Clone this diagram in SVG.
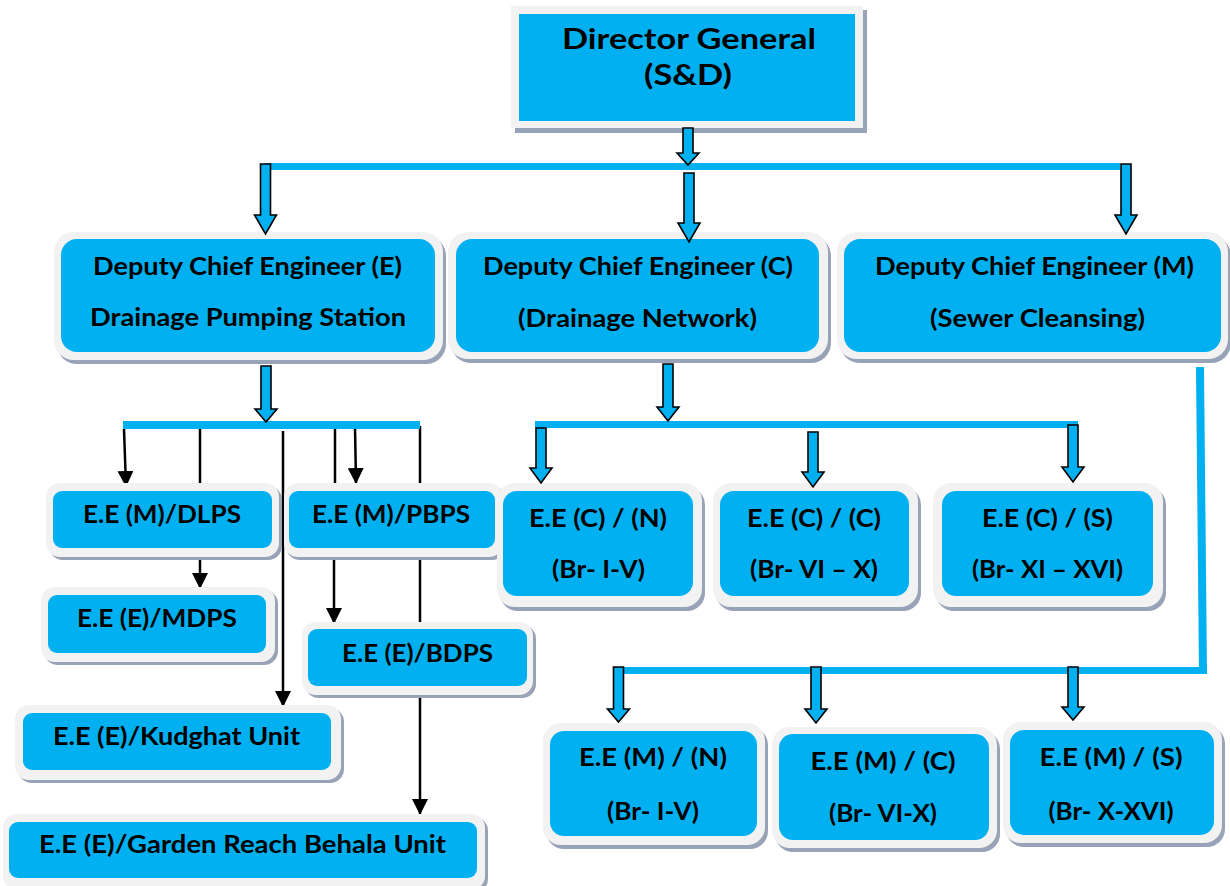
<svg xmlns="http://www.w3.org/2000/svg" width="1230" height="886" viewBox="0 0 1230 886">
<style>
.sh{fill:#98a3b8}
.fr{fill:#f2f2f2}
.bl{fill:#00b0f0}
.t{font-family:Lato,"Liberation Sans",sans-serif;font-weight:bold;font-size:24px;fill:#000;text-anchor:middle}
.tb{font-size:28px}
.bar{fill:#00b0f0}
.ba{fill:#00b0f0;stroke:#000;stroke-width:1.6;stroke-linejoin:miter}
.ln{stroke:#000;stroke-width:2.5;fill:none}
</style>
<defs>
<marker id="ah" markerUnits="userSpaceOnUse" markerWidth="16" markerHeight="16" refX="15" refY="8" orient="auto">
<path d="M0,0 L16,8 L0,16 z" fill="#000"/>
</marker>
</defs>
<rect width="1230" height="886" fill="#fff"/>

<g id="connectors-lines">
<line class="ln" x1="124" y1="429" x2="126" y2="486" marker-end="url(#ah)"/>
<line class="ln" x1="200" y1="429" x2="200" y2="484"/>
<line class="ln" x1="200" y1="557" x2="200" y2="588" marker-end="url(#ah)"/>
<line class="ln" x1="283" y1="431" x2="283" y2="706" marker-end="url(#ah)"/>
<line class="ln" x1="335" y1="429" x2="335" y2="484"/>
<line class="ln" x1="334" y1="557" x2="334" y2="623" marker-end="url(#ah)"/>
<line class="ln" x1="355" y1="427" x2="356" y2="483" marker-end="url(#ah)"/>
<line class="ln" x1="420" y1="426" x2="420" y2="484"/>
<line class="ln" x1="420" y1="557" x2="420" y2="622"/>
<line class="ln" x1="420" y1="695" x2="420" y2="814" marker-end="url(#ah)"/>
</g>

<g id="n-dg">
<rect class="sh" x="515" y="10" width="352" height="123"/>
<rect class="fr" x="511" y="6" width="352" height="122"/>
<rect class="bl" x="519" y="14" width="336" height="107"/>
<text class="t tb" x="689" y="49" textLength="254" lengthAdjust="spacingAndGlyphs">Director General</text>
<text class="t tb" x="688" y="85" textLength="88" lengthAdjust="spacingAndGlyphs">(S&amp;D)</text>
</g>

<g id="n-dce-e">
<rect class="sh" x="57" y="236" width="389" height="128" rx="20"/>
<rect class="fr" x="54" y="232" width="389" height="128" rx="20"/>
<rect class="bl" x="61" y="239" width="374" height="113" rx="16"/>
<text class="t" x="247.5" y="275" textLength="309" lengthAdjust="spacingAndGlyphs">Deputy Chief Engineer (E)</text>
<text class="t" x="248" y="326" textLength="316" lengthAdjust="spacingAndGlyphs">Drainage Pumping Station</text>
</g>

<g id="n-dce-c">
<rect class="sh" x="451" y="236" width="380" height="127" rx="20"/>
<rect class="fr" x="448" y="232" width="380" height="127" rx="20"/>
<rect class="bl" x="456" y="239" width="363" height="113" rx="16"/>
<text class="t" x="638" y="275" textLength="310" lengthAdjust="spacingAndGlyphs">Deputy Chief Engineer (C)</text>
<text class="t" x="637.5" y="327" textLength="239" lengthAdjust="spacingAndGlyphs">(Drainage Network)</text>
</g>

<g id="n-dce-m">
<rect class="sh" x="840" y="236" width="391" height="127" rx="20"/>
<rect class="fr" x="837" y="232" width="391" height="127" rx="20"/>
<rect class="bl" x="844" y="239" width="377" height="113" rx="16"/>
<text class="t" x="1034.5" y="275" textLength="319" lengthAdjust="spacingAndGlyphs">Deputy Chief Engineer (M)</text>
<text class="t" x="1037.5" y="327" textLength="215" lengthAdjust="spacingAndGlyphs">(Sewer Cleansing)</text>
</g>

<g id="n-dlps">
<rect class="sh" x="49" y="486" width="233" height="74" rx="14"/>
<rect class="fr" x="46" y="483" width="233" height="74" rx="14"/>
<rect class="bl" x="53" y="491" width="219" height="57" rx="9"/>
<text class="t" x="162" y="523" textLength="158" lengthAdjust="spacingAndGlyphs">E.E (M)/DLPS</text>
</g>

<g id="n-pbps">
<rect class="sh" x="286" y="486" width="220" height="74" rx="14"/>
<rect class="fr" x="284" y="483" width="219" height="74" rx="14"/>
<rect class="bl" x="289" y="491" width="206" height="57" rx="9"/>
<text class="t" x="391" y="523" textLength="158" lengthAdjust="spacingAndGlyphs">E.E (M)/PBPS</text>
</g>

<g id="n-mdps">
<rect class="sh" x="44" y="590" width="234" height="75" rx="14"/>
<rect class="fr" x="41" y="587" width="234" height="75" rx="14"/>
<rect class="bl" x="48" y="595" width="218" height="58" rx="9"/>
<text class="t" x="157" y="627" textLength="160" lengthAdjust="spacingAndGlyphs">E.E (E)/MDPS</text>
</g>

<g id="n-bdps">
<rect class="sh" x="305" y="625" width="231" height="73" rx="14"/>
<rect class="fr" x="302" y="622" width="231" height="73" rx="14"/>
<rect class="bl" x="308" y="629" width="219" height="57" rx="9"/>
<text class="t" x="417.5" y="662" textLength="151" lengthAdjust="spacingAndGlyphs">E.E (E)/BDPS</text>
</g>

<g id="n-kudghat">
<rect class="sh" x="18" y="708" width="326" height="75" rx="14"/>
<rect class="fr" x="15" y="705" width="326" height="75" rx="14"/>
<rect class="bl" x="23" y="713" width="308" height="57" rx="9"/>
<text class="t" x="176.5" y="745" textLength="247" lengthAdjust="spacingAndGlyphs">E.E (E)/Kudghat Unit</text>
</g>

<g id="n-garden">
<rect class="sh" x="6" y="817" width="482" height="76" rx="14"/>
<rect class="fr" x="3" y="814" width="482" height="76" rx="14"/>
<rect class="bl" x="9" y="822" width="468" height="56" rx="9"/>
<text class="t" x="242.5" y="853" textLength="407" lengthAdjust="spacingAndGlyphs">E.E (E)/Garden Reach Behala Unit</text>
</g>

<g id="n-ec-n">
<rect class="sh" x="500" y="487" width="205" height="124" rx="18"/>
<rect class="fr" x="497" y="483" width="205" height="124" rx="18"/>
<rect class="bl" x="503" y="491" width="190" height="105" rx="14"/>
<text class="t" x="598" y="527" textLength="138" lengthAdjust="spacingAndGlyphs">E.E (C) / (N)</text>
<text class="t" x="598.5" y="578" textLength="93" lengthAdjust="spacingAndGlyphs">(Br- I-V)</text>
</g>

<g id="n-ec-c">
<rect class="sh" x="716" y="487" width="205" height="124" rx="18"/>
<rect class="fr" x="713" y="483" width="205" height="124" rx="18"/>
<rect class="bl" x="720" y="491" width="189" height="105" rx="14"/>
<text class="t" x="814" y="527" textLength="134" lengthAdjust="spacingAndGlyphs">E.E (C) / (C)</text>
<text class="t" x="814" y="578" textLength="128" lengthAdjust="spacingAndGlyphs">(Br- VI – X)</text>
</g>

<g id="n-ec-s">
<rect class="sh" x="936" y="487" width="230" height="124" rx="18"/>
<rect class="fr" x="933" y="483" width="230" height="124" rx="18"/>
<rect class="bl" x="942" y="491" width="211" height="105" rx="14"/>
<text class="t" x="1047.5" y="527" textLength="131" lengthAdjust="spacingAndGlyphs">E.E (C) / (S)</text>
<text class="t" x="1047.5" y="578" textLength="151" lengthAdjust="spacingAndGlyphs">(Br- XI – XVI)</text>
</g>

<g id="n-em-n">
<rect class="sh" x="546" y="727" width="222" height="122" rx="18"/>
<rect class="fr" x="543" y="723" width="222" height="122" rx="18"/>
<rect class="bl" x="550" y="731" width="207" height="105" rx="14"/>
<text class="t" x="653" y="766" textLength="148" lengthAdjust="spacingAndGlyphs">E.E (M) / (N)</text>
<text class="t" x="653" y="820" textLength="92" lengthAdjust="spacingAndGlyphs">(Br- I-V)</text>
</g>

<g id="n-em-c">
<rect class="sh" x="775" y="731" width="225" height="121" rx="18"/>
<rect class="fr" x="772" y="727" width="225" height="121" rx="18"/>
<rect class="bl" x="779" y="734" width="210" height="106" rx="14"/>
<text class="t" x="883" y="770" textLength="145" lengthAdjust="spacingAndGlyphs">E.E (M) / (C)</text>
<text class="t" x="883" y="822" textLength="108" lengthAdjust="spacingAndGlyphs">(Br- VI-X)</text>
</g>

<g id="n-em-s">
<rect class="sh" x="1006" y="726" width="219" height="121" rx="18"/>
<rect class="fr" x="1003" y="722" width="219" height="121" rx="18"/>
<rect class="bl" x="1010" y="730" width="204" height="105" rx="14"/>
<text class="t" x="1111" y="766" textLength="143" lengthAdjust="spacingAndGlyphs">E.E (M) / (S)</text>
<text class="t" x="1111" y="820" textLength="125" lengthAdjust="spacingAndGlyphs">(Br- X-XVI)</text>
</g>

<g id="connectors">
<rect class="bar" x="265" y="163" width="855" height="7"/>
<rect class="bar" x="123" y="421" width="297" height="8"/>
<rect class="bar" x="535" y="421" width="543" height="7"/>
<polygon class="bar" points="1196,367 1204,367 1207,673 1199,673"/>
<rect class="bar" x="613" y="667" width="594" height="7"/>
<polygon class="ba" points="683,128 693,128 693,153 699,153 688,165 677,153 683,153"/>
<polygon class="ba" points="260.5,164 270.5,164 270.5,215 276.5,215 265.5,234 254.5,215 260.5,215"/>
<polygon class="ba" points="684,173 694,173 694,223 700,223 689,242 678,223 684,223"/>
<polygon class="ba" points="1121,164 1131,164 1131,215 1137,215 1126,234 1115,215 1121,215"/>
<polygon class="ba" points="261,366 271,366 271,409 277,409 266,422 255,409 261,409"/>
<polygon class="ba" points="663,364 673,364 673,407 679,407 668,421 657,407 663,407"/>
<polygon class="ba" points="536,428 546,428 546,468 552,468 541,483 530,468 536,468"/>
<polygon class="ba" points="808,432 818,432 818,472 824,472 813,487 802,472 808,472"/>
<polygon class="ba" points="1068,425 1078,425 1078,467 1084,467 1073,482 1062,467 1068,467"/>
<polygon class="ba" points="613.5,667 623.5,667 623.5,709 629.5,709 618.5,722 607.5,709 613.5,709"/>
<polygon class="ba" points="811,667 821,667 821,709 827,709 816,723 805,709 811,709"/>
<polygon class="ba" points="1068,667 1078,667 1078,707 1084,707 1073,720 1062,707 1068,707"/>
</g>
</svg>
